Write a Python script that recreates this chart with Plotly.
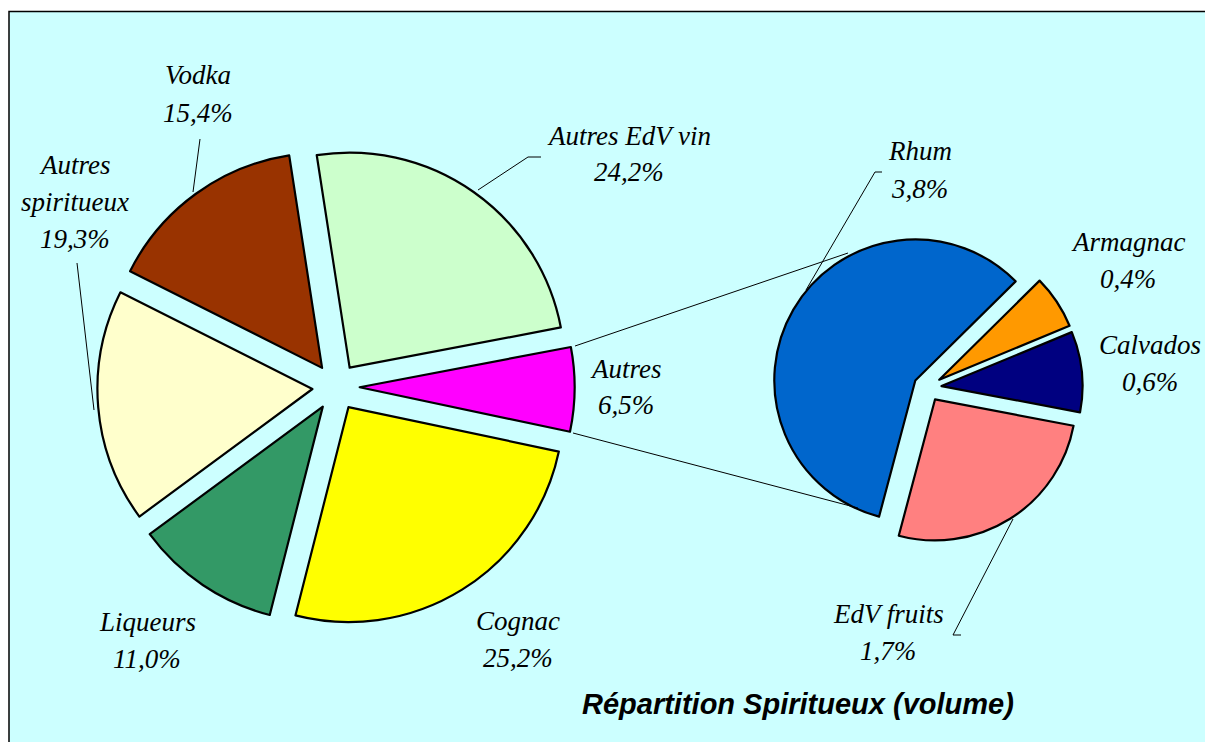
import plotly.graph_objects as go

W, H = 1205, 742

# main pie (clockwise from the top)
main_names = ["Autres EdV vin", "Autres", "Cognac", "Liqueurs", "Autres<br>spiritueux", "Vodka"]
main_share = [24.4, 6.3, 25.6, 10.9, 17.5, 15.1]  # slice sizes as drawn
main_printed = [24.2, 6.5, 25.2, 11.0, 19.3, 15.4]  # percentages printed on the chart
main_colors = ["#CCFFCC", "#FF00FF", "#FFFF00", "#339966", "#FFFFCC", "#993300"]

# secondary pie: breakdown of "Autres"
sub_names = ["Rhum", "Armagnac", "Calvados", "EdV fruits"]
sub_values = [3.8, 0.4, 0.6, 1.7]
sub_colors = ["#0066CC", "#FF9900", "#000080", "#FF8080"]

title_text = "Répartition Spiritueux (volume)"

# label block centres (pixels)
main_label_pos = [(629, 154), (626, 387), (518, 639), (147, 640), (75, 202), (198, 94)]
sub_label_pos = [(920, 170), (1128, 260), (1150, 363), (888, 632)]


def px(x):
    return x / W


def py(y):
    return 1 - y / H


def pie_domain(cx, cy, half):
    return dict(x=[px(cx - half), px(cx + half)], y=[py(cy + half), py(cy - half)])


fig = go.Figure()

fig.add_trace(go.Pie(
    labels=main_names,
    values=main_share,
    marker=dict(colors=main_colors, line=dict(color="black", width=2.2)),
    sort=False,
    direction="clockwise",
    rotation=-8.8,
    pull=0.11,
    textinfo="none",
    hoverinfo="label+value",
    domain=pie_domain(336, 387, 215 * 1.11),
    showlegend=False,
))

fig.add_trace(go.Pie(
    labels=sub_names,
    values=sub_values,
    marker=dict(colors=sub_colors, line=dict(color="black", width=2.2)),
    sort=False,
    direction="clockwise",
    rotation=194.9,
    pull=0.1,
    textinfo="none",
    hoverinfo="label+value",
    domain=pie_domain(927.5, 387.5, 141 * 1.1),
    showlegend=False,
))


def fmt(v):
    return f"{v:.1f}%".replace(".", ",")


label_font = dict(family="Liberation Serif", size=27, color="black", style="italic")
line_gap = 37

annotations = []
entries = list(zip(main_names, [fmt(v) for v in main_printed], main_label_pos))
entries += list(zip(sub_names, [fmt(v) for v in sub_values], sub_label_pos))
for name, pct, (cx, cy) in entries:
    lines = name.split("<br>") + [pct]
    top = cy - line_gap * (len(lines) - 1) / 2
    for i, txt in enumerate(lines):
        annotations.append(dict(
            x=px(cx), y=py(top + i * line_gap), xref="paper", yref="paper",
            text=txt, showarrow=False, xanchor="center", yanchor="middle",
            font=label_font,
        ))

annotations.append(dict(
    x=px(798), y=py(704), xref="paper", yref="paper",
    text="<b><i>" + title_text + "</i></b>", showarrow=False,
    xanchor="center", yanchor="middle",
    font=dict(family="Liberation Sans", size=29, color="black"),
))


def path(points, width=1):
    d = "M " + " L ".join(f"{px(x)},{py(y)}" for x, y in points)
    return dict(type="path", path=d, xref="paper", yref="paper",
                line=dict(color="black", width=width))


shapes = [
    dict(type="rect", xref="paper", yref="paper", layer="below",
         x0=px(9), y0=0, x1=1, y1=py(11.5),
         fillcolor="#CCFFFF", line=dict(width=0)),
    # frame: only top and left edges are visible
    path([(9, 742), (9, 11.5), (1205, 11.5)], width=1.5),
    # connectors from "Autres" to the secondary pie
    path([(575, 346), (848, 253)]),
    path([(573, 433), (858, 508)]),
    # leader lines
    path([(200, 139), (193, 192)]),
    path([(77, 263), (94, 410)]),
    path([(541, 157), (528, 157), (478, 190)]),
    path([(882, 172), (875, 172), (806, 290)]),
    path([(961, 635), (953, 635), (1013, 519)]),
]

fig.update_layout(
    width=W, height=H,
    margin=dict(l=0, r=0, t=0, b=0),
    paper_bgcolor="white",
    plot_bgcolor="white",
    annotations=annotations,
    shapes=shapes,
)

fig.write_html(
    "out.html",
    config={"displayModeBar": False},
    post_script="document.body.style.margin='0'; document.body.style.overflow='hidden';",
)
